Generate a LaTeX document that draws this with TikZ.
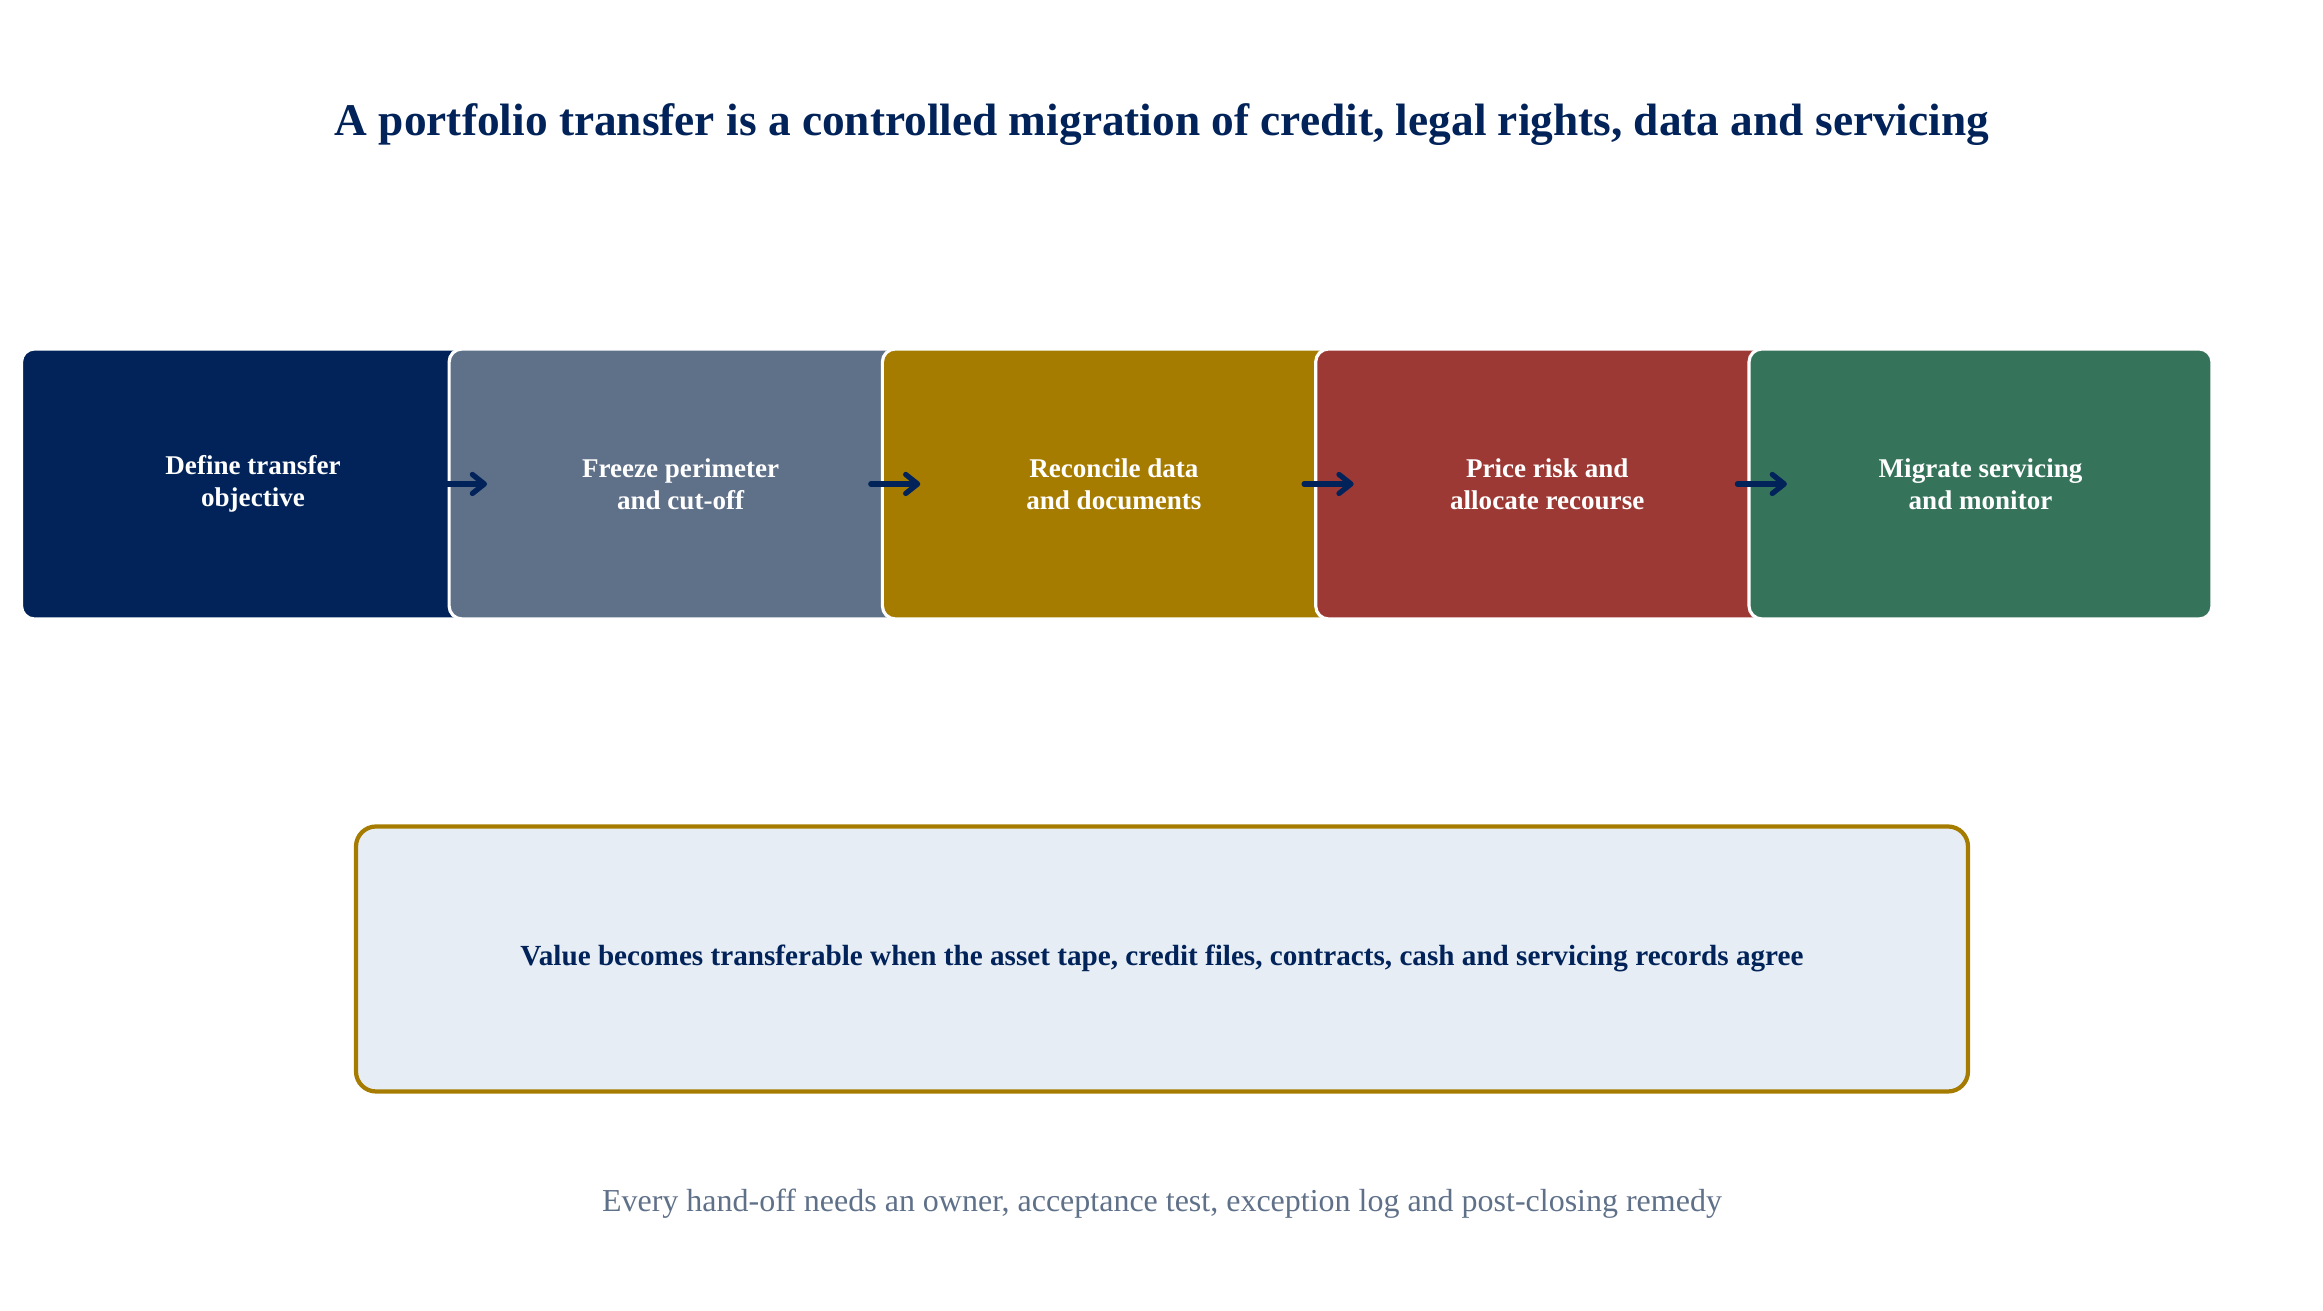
\documentclass[tikz,border=0pt]{standalone}
\usepackage{fontspec}
\setmainfont{Liberation Serif}
\usepackage{tikz}
\usetikzlibrary{arrows.meta}

\definecolor{navy}{RGB}{1,35,89}
\definecolor{slate}{RGB}{95,112,137}
\definecolor{gold}{RGB}{166,124,0}
\definecolor{brick}{RGB}{157,57,52}
\definecolor{pine}{RGB}{53,116,91}
\definecolor{pale}{RGB}{230,237,245}

\tikzset{
  stage/.style={draw=white, line width=0.9pt, rounded corners=1.3mm,
    minimum width=4.63cm, minimum height=2.70cm, align=center,
    text=white, font=\fontsize{7.7}{9.2}\selectfont\bfseries},
  flow/.style={draw=navy, line width=1.5pt, line cap=round,
    -{Straight Barb[length=1.2mm, width=1.9mm, round]}},
  note/.style={draw=gold, line width=1.2pt, fill=pale, rounded corners=2mm,
    minimum width=16.12cm, minimum height=2.65cm}
}

\begin{document}
\begin{tikzpicture}
\useasboundingbox (0,0) rectangle (23.23,13.11);

\node[anchor=base, text=navy, font=\fontsize{12.9}{15}\selectfont\bfseries] (title) at (11.62,11.75)
  {A portfolio transfer is a controlled migration of credit, legal rights, data and servicing};

% stages, left to right
\foreach \i/\x/\col/\txt in {1/2.53/navy/{Define transfer\\objective},
    2/6.806/slate/{Freeze perimeter\\and cut-off},
    3/11.139/gold/{Reconcile data\\and documents},
    4/15.472/brick/{Price risk and\\allocate recourse},
    5/19.805/pine/{Migrate servicing\\and monitor}}{
  \node[stage, fill=\col] (s\i) at (\x,8.27) {\txt};
}

\foreach \i/\j in {1/2,2/3,3/4,4/5}{
  \draw[flow] ([xshift=-1mm]s\j.west) -- ([xshift=3.95mm]s\j.west);
}

\node[note] (agree) at (11.62,3.52) {};
\node[anchor=base, text=navy, font=\fontsize{8.3}{10}\selectfont\bfseries] (agreetxt) at (11.62,3.45)
  {Value becomes transferable when the asset tape, credit files, contracts, cash and servicing records agree};

\node[anchor=base, text=slate, font=\fontsize{9.1}{11}\selectfont] (footer) at (11.62,0.99)
  {Every hand-off needs an owner, acceptance test, exception log and post-closing remedy};

\end{tikzpicture}
\end{document}
